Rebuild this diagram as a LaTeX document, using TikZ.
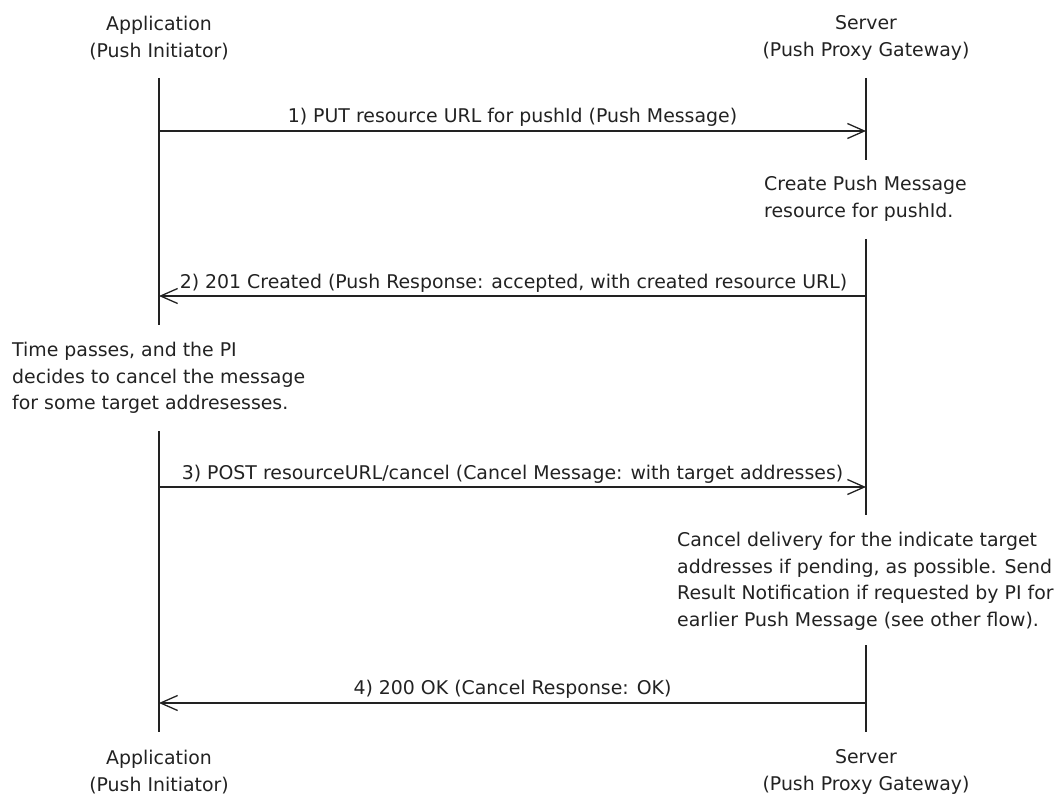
\documentclass[tikz,border=0pt]{standalone}
\usepackage{fontspec}
\setmainfont{DejaVu Sans}
\usetikzlibrary{arrows.meta}
\definecolor{ink}{HTML}{222222}
\tikzset{
  life/.style={draw=ink, line width=1.3pt},
  msg/.style={draw=ink, line width=1.3pt, -{Straight Barb[length=17pt,width=15pt,line width=1.3pt]}},
  lbl/.style={text=ink, font=\fontsize{18.9}{26.5}\selectfont, inner sep=0pt, align=center},
  note/.style={text=ink, font=\fontsize{18.9}{26.5}\selectfont, inner sep=0pt, align=left, anchor=north west},
}
\begin{document}
\begin{tikzpicture}[x=1pt,y=-1pt]
\useasboundingbox (0,0) rectangle (1063,794);
% actors
\node[lbl] (apptop) at (159,38) {Application\\(Push Initiator)};
\node[lbl] (srvtop) at (866,38) {Server\\(Push Proxy Gateway)};
\node[lbl] (appbot) at (159,772) {Application\\(Push Initiator)};
\node[lbl] (srvbot) at (866,772) {Server\\(Push Proxy Gateway)};
% lifeline coordinates
\coordinate (a0) at (159,78);
\coordinate (a1) at (159,131);
\coordinate (a2) at (159,296);
\coordinate (a3) at (159,325);
\coordinate (a4) at (159,431);
\coordinate (a5) at (159,487);
\coordinate (a6) at (159,703);
\coordinate (a7) at (159,732);
\coordinate (s0) at (866,78);
\coordinate (s1) at (866,131);
\coordinate (s2) at (866,160);
\coordinate (s3) at (866,239);
\coordinate (s4) at (866,296);
\coordinate (s5) at (866,487);
\coordinate (s6) at (866,515);
\coordinate (s7) at (866,645);
\coordinate (s8) at (866,703);
\coordinate (s9) at (866,732);
% lifelines
\draw[life] (a0) -- (a3);
\draw[life] (a4) -- (a7);
\draw[life] (s0) -- (s2);
\draw[life] (s3) -- (s6);
\draw[life] (s7) -- (s9);
% messages
\draw[msg] (a1) -- (s1) node[lbl, midway, above=4pt] (m1) {1) PUT resource URL for pushId (Push Message)};
\draw[msg] (s4) -- (a2) node[lbl, midway, above=3pt, xshift=1pt] (m2) {2) 201 Created (Push Response: accepted, with created resource URL)};
\draw[msg] (a5) -- (s5) node[lbl, midway, above=3pt] (m3) {3) POST resourceURL/cancel (Cancel Message: with target addresses)};
\draw[msg] (s8) -- (a6) node[lbl, midway, above=4pt] (m4) {4) 200 OK (Cancel Response: OK)};
% notes
\node[note] (n1) at (764,176) {Create Push Message\\resource for pushId.};
\node[note] (n2) at (12,342) {Time passes, and the PI\\decides to cancel the message\\for some target addresesses.};
\node[note] (n3) at (677,532) {Cancel delivery for the indicate target\\addresses if pending, as possible. Send\\Result Notification if requested by PI for\\earlier Push Message (see other flow).};
\end{tikzpicture}
\end{document}
